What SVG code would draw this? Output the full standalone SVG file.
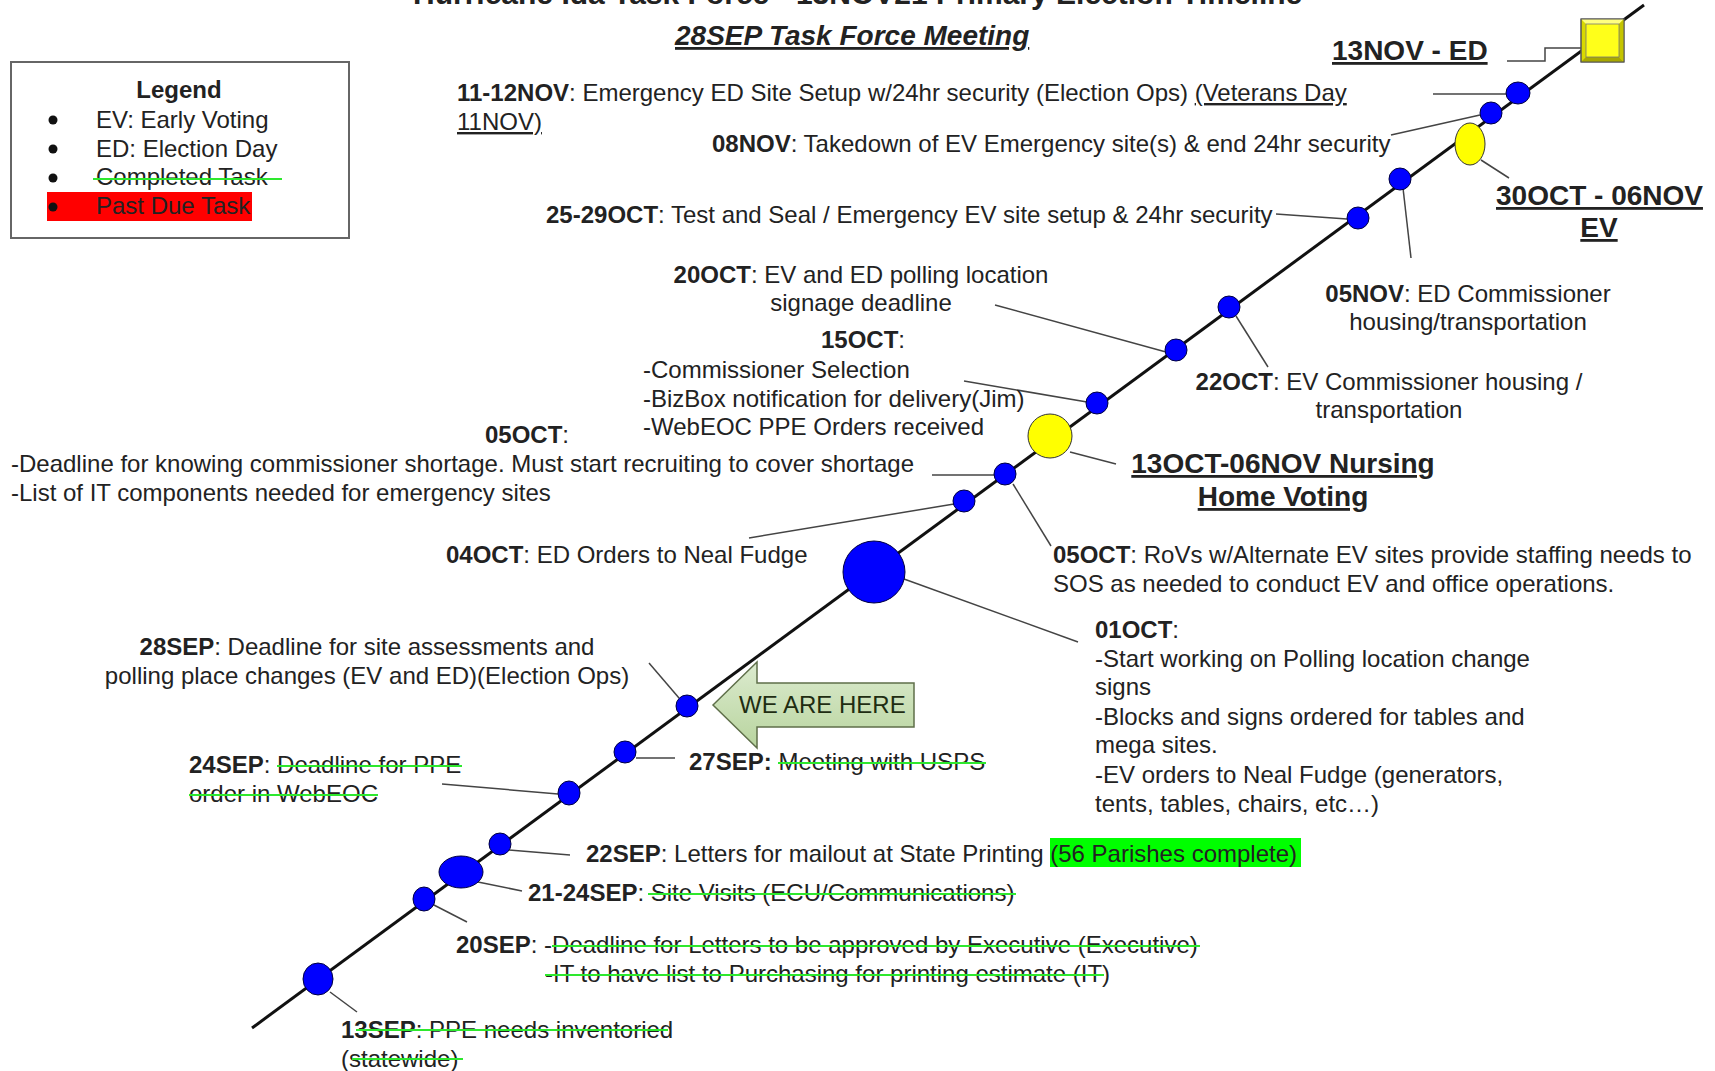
<svg xmlns="http://www.w3.org/2000/svg" width="1715" height="1071" viewBox="0 0 1715 1071">
<defs>
<style>
text{font-family:"Liberation Sans",Arial,sans-serif;font-size:24px;fill:#222}
.b{font-weight:bold}
.big{font-size:28px;font-weight:bold;text-decoration:underline}
.u{text-decoration:underline}
.conn{stroke:#444;stroke-width:1.5;fill:none}
.tl{stroke:#111;stroke-width:3;fill:none}
.st{stroke:#2ee82e;stroke-width:2}
.dot{fill:#0000ff;stroke:#000040;stroke-width:1}
.yel{fill:#ffff00;stroke:#333;stroke-width:1}
</style>
<linearGradient id="gArrow" x1="0" y1="0" x2="0" y2="1">
<stop offset="0" stop-color="#dcebcf"/>
<stop offset="1" stop-color="#b8d49e"/>
</linearGradient>
</defs>
<rect width="1715" height="1071" fill="#fff"/>

<g id="title">
<text x="413" y="4" style="font-size:30px;font-weight:bold">Hurricane Ida Task Force - 13NOV21 Primary Election Timeline</text>
<text x="675" y="45" style="font-size:28px;font-weight:bold;font-style:italic;text-decoration:underline">28SEP Task Force Meeting</text>
</g>

<g id="legend">
<rect x="11" y="62" width="338" height="176" fill="#fff" stroke="#666" stroke-width="2"/>
<rect x="47" y="192" width="205" height="29" fill="#ff0000"/>
<text x="179" y="98" text-anchor="middle" class="b">Legend</text>
<circle cx="53" cy="120" r="4.5" fill="#111"/>
<circle cx="53" cy="149" r="4.5" fill="#111"/>
<circle cx="53" cy="178" r="4.5" fill="#111"/>
<circle cx="53" cy="207" r="4.5" fill="#111"/>
<text x="96" y="128">EV: Early Voting</text>
<text x="96" y="157">ED: Election Day</text>
<text x="96" y="185">Completed Task</text>
<line class="st" x1="93" y1="179" x2="282" y2="179"/>
<text x="96" y="214">Past Due Task</text>
</g>

<g id="connectors">
<line class="tl" x1="252" y1="1028" x2="1644" y2="5"/>
<polyline class="conn" points="1507,61 1545,61 1545,48 1581,48"/>
<line class="conn" x1="1433" y1="94" x2="1507" y2="94"/>
<line class="conn" x1="1391" y1="135" x2="1480" y2="115"/>
<line class="conn" x1="1481" y1="160" x2="1509" y2="178"/>
<line class="conn" x1="1403" y1="188" x2="1411" y2="258"/>
<line class="conn" x1="1276" y1="214" x2="1347" y2="219"/>
<line class="conn" x1="1236" y1="316" x2="1268" y2="367"/>
<line class="conn" x1="995" y1="305" x2="1166" y2="352"/>
<line class="conn" x1="964" y1="381" x2="1087" y2="402"/>
<line class="conn" x1="1070" y1="452" x2="1116" y2="464"/>
<line class="conn" x1="932" y1="475" x2="995" y2="475"/>
<line class="conn" x1="1013" y1="484" x2="1051" y2="546"/>
<line class="conn" x1="749" y1="538" x2="954" y2="504"/>
<line class="conn" x1="904" y1="579" x2="1078" y2="642"/>
<line class="conn" x1="649" y1="663" x2="679" y2="698"/>
<line class="conn" x1="636" y1="758" x2="675" y2="758"/>
<line class="conn" x1="442" y1="784" x2="558" y2="794"/>
<line class="conn" x1="509" y1="850" x2="570" y2="855"/>
<line class="conn" x1="478" y1="882" x2="522" y2="891"/>
<line class="conn" x1="432" y1="904" x2="467" y2="922"/>
<line class="conn" x1="330" y1="992" x2="357" y2="1012"/>
</g>

<g id="n-13sep">
<ellipse class="dot" cx="318" cy="979" rx="15" ry="16"/>
<text x="341" y="1038"><tspan class="b">13SEP</tspan>: PPE needs inventoried</text>
<text x="341" y="1067">(statewide)</text>
<line class="st" x1="356" y1="1030" x2="668" y2="1030"/>
<line class="st" x1="352" y1="1059" x2="463" y2="1059"/>
</g>

<g id="n-20sep">
<ellipse class="dot" cx="424" cy="899" rx="11" ry="12"/>
<text x="456" y="953"><tspan class="b">20SEP</tspan>: -Deadline for Letters to be approved by Executive (Executive)</text>
<text x="545" y="982">-IT to have list to Purchasing for printing estimate (IT)</text>
<line class="st" x1="552" y1="946" x2="1200" y2="946"/>
<line class="st" x1="545" y1="975" x2="1104" y2="975"/>
</g>

<g id="n-21-24sep">
<ellipse class="dot" cx="461" cy="872" rx="22" ry="16"/>
<text x="528" y="901"><tspan class="b">21-24SEP</tspan>: Site Visits (ECU/Communications)</text>
<line class="st" x1="648" y1="894" x2="1016" y2="894"/>
</g>

<g id="n-22sep">
<ellipse class="dot" cx="500" cy="844" rx="11" ry="11"/>
<rect x="1050" y="838" width="251" height="29" fill="#00ff00"/>
<text x="586" y="862"><tspan class="b">22SEP</tspan>: Letters for mailout at State Printing (56 Parishes complete)</text>
</g>

<g id="n-24sep">
<ellipse class="dot" cx="569" cy="793" rx="11" ry="12"/>
<text x="189" y="773"><tspan class="b">24SEP</tspan>: Deadline for PPE</text>
<text x="189" y="802">order in WebEOC</text>
<line class="st" x1="277" y1="766" x2="462" y2="766"/>
<line class="st" x1="189" y1="795" x2="378" y2="795"/>
</g>

<g id="n-27sep">
<ellipse class="dot" cx="625" cy="752" rx="11" ry="11"/>
<text x="689" y="770"><tspan class="b">27SEP:</tspan> Meeting with USPS</text>
<line class="st" x1="778" y1="763" x2="986" y2="763"/>
</g>

<g id="n-28sep">
<ellipse class="dot" cx="687" cy="706" rx="11" ry="11"/>
<text x="367" y="655" text-anchor="middle"><tspan class="b">28SEP</tspan>: Deadline for site assessments and</text>
<text x="367" y="684" text-anchor="middle">polling place changes (EV and ED)(Election Ops)</text>
</g>

<g id="we-are-here">
<path d="M713,705 L757,662 L757,683 L914,683 L914,727 L757,727 L757,748 Z" fill="url(#gArrow)" stroke="#5f6f4a" stroke-width="1.5"/>
<text x="739" y="713" style="fill:#1f2d12">WE ARE HERE</text>
</g>

<g id="n-01oct">
<circle class="dot" cx="874" cy="572" r="31"/>
<text x="1095" y="638"><tspan class="b">01OCT</tspan>:</text>
<text x="1095" y="667">-Start working on Polling location change</text>
<text x="1095" y="695">signs</text>
<text x="1095" y="725">-Blocks and signs ordered for tables and</text>
<text x="1095" y="753">mega sites.</text>
<text x="1095" y="783">-EV orders to Neal Fudge (generators,</text>
<text x="1095" y="812">tents, tables, chairs, etc…)</text>
</g>

<g id="n-04oct">
<ellipse class="dot" cx="964" cy="501" rx="11" ry="11"/>
<text x="446" y="563"><tspan class="b">04OCT</tspan>: ED Orders to Neal Fudge</text>
</g>

<g id="n-05oct">
<ellipse class="dot" cx="1005" cy="474" rx="11" ry="11"/>
<text x="485" y="443"><tspan class="b">05OCT</tspan>:</text>
<text x="11" y="472">-Deadline for knowing commissioner shortage. Must start recruiting to cover shortage</text>
<text x="11" y="501">-List of IT components needed for emergency sites</text>
<text x="1053" y="563"><tspan class="b">05OCT</tspan>: RoVs w/Alternate EV sites provide staffing needs to</text>
<text x="1053" y="592">SOS as needed to conduct EV and office operations.</text>
</g>

<g id="n-13oct">
<circle class="yel" cx="1050" cy="436" r="22"/>
<text x="1283" y="473" text-anchor="middle" class="big">13OCT-06NOV Nursing</text>
<text x="1283" y="506" text-anchor="middle" class="big">Home Voting</text>
</g>

<g id="n-15oct">
<ellipse class="dot" cx="1097" cy="403" rx="11" ry="11"/>
<text x="863" y="348" text-anchor="middle"><tspan class="b">15OCT</tspan>:</text>
<text x="643" y="378">-Commissioner Selection</text>
<text x="643" y="407">-BizBox notification for delivery(Jim)</text>
<text x="643" y="435">-WebEOC PPE Orders received</text>
</g>

<g id="n-20oct">
<ellipse class="dot" cx="1176" cy="350" rx="11" ry="11"/>
<text x="861" y="283" text-anchor="middle"><tspan class="b">20OCT</tspan>: EV and ED polling location</text>
<text x="861" y="311" text-anchor="middle">signage deadline</text>
</g>

<g id="n-22oct">
<ellipse class="dot" cx="1229" cy="307" rx="11" ry="11"/>
<text x="1389" y="390" text-anchor="middle"><tspan class="b">22OCT</tspan>: EV Commissioner housing /</text>
<text x="1389" y="418" text-anchor="middle">transportation</text>
</g>

<g id="n-25-29oct">
<ellipse class="dot" cx="1358" cy="218" rx="11" ry="11"/>
<text x="546" y="223"><tspan class="b">25-29OCT</tspan>: Test and Seal / Emergency EV site setup &amp; 24hr security</text>
</g>

<g id="n-05nov">
<ellipse class="dot" cx="1400" cy="179" rx="11" ry="11"/>
<text x="1468" y="302" text-anchor="middle"><tspan class="b">05NOV</tspan>: ED Commissioner</text>
<text x="1468" y="330" text-anchor="middle">housing/transportation</text>
</g>

<g id="n-30oct-06nov">
<ellipse class="yel" cx="1470" cy="144" rx="15" ry="21"/>
<text x="1496" y="205" class="big">30OCT - 06NOV</text>
<text x="1599" y="237" text-anchor="middle" class="big">EV</text>
</g>

<g id="n-08nov">
<ellipse class="dot" cx="1491" cy="113" rx="11" ry="11"/>
<text x="712" y="152"><tspan class="b">08NOV</tspan>: Takedown of EV Emergency site(s) &amp; end 24hr security</text>
</g>

<g id="n-11-12nov">
<ellipse class="dot" cx="1518" cy="93" rx="12" ry="11"/>
<text x="457" y="101"><tspan class="b">11-12NOV</tspan>: Emergency ED Site Setup w/24hr security (Election Ops) <tspan class="u">(Veterans Day</tspan></text>
<text x="457" y="130" class="u">11NOV)</text>
</g>

<g id="n-13nov">
<rect x="1581" y="19" width="43" height="43" fill="#d9d900" stroke="#555" stroke-width="1"/>
<polygon points="1581,19 1624,19 1619,24 1586,24" fill="#ffff80"/>
<polygon points="1581,62 1624,62 1619,57 1586,57" fill="#a8a800"/>
<polygon points="1624,19 1624,62 1619,57 1619,24" fill="#c4c400"/>
<rect x="1586" y="24" width="33" height="33" fill="#ffff1a" stroke="#777" stroke-width="0.8"/>
<rect x="1581" y="19" width="43" height="43" fill="none" stroke="#555" stroke-width="1"/>
<text x="1332" y="60" class="big">13NOV - ED</text>
</g>
</svg>
